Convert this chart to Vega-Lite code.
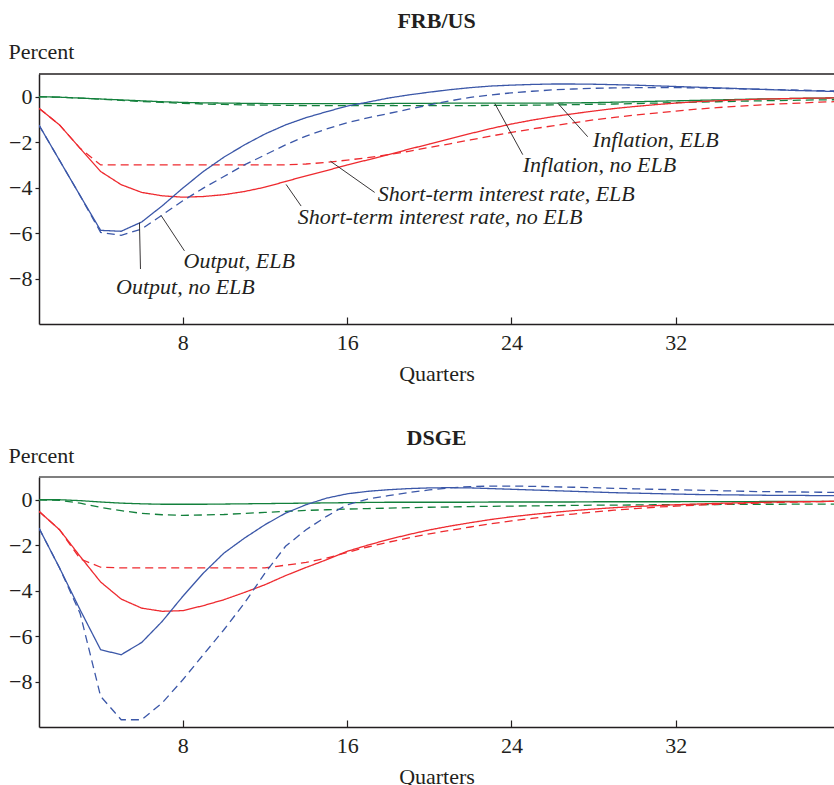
{
"$schema": "https://vega.github.io/schema/vega-lite/v6.json",
"background": "white",
"padding": {"left": 8, "top": 10, "right": 0, "bottom": 0},
"config": {
  "view": {"stroke": null},
  "font": "Liberation Serif",
  "axis": {"labelFont": "Liberation Serif", "labelFontSize": 22, "labelColor": "#231f20", "titleFont": "Liberation Serif", "titleFontSize": 22, "titleFontWeight": "normal", "titleColor": "#231f20", "domainColor": "#231f20", "domainWidth": 1.5, "tickColor": "#231f20", "tickWidth": 1.2, "grid": false},
  "title": {"font": "Liberation Serif", "fontSize": 22, "fontWeight": "bold", "color": "#231f20"},
  "concat": {"spacing": 43}
},
"datasets": {
"d": [
{"m":"FRB/US","q":1,"oE":-1.25,"oN":-1.25,"rE":-0.51,"rN":-0.51,"iE":0,"iN":0},
{"m":"FRB/US","q":2,"oE":-2.8,"oN":-2.8,"rE":-1.24,"rN":-1.24,"iE":-0.02,"iN":-0.02},
{"m":"FRB/US","q":3,"oE":-4.35,"oN":-4.35,"rE":-2.27,"rN":-2.27,"iE":-0.06,"iN":-0.06},
{"m":"FRB/US","q":4,"oE":-5.88,"oN":-5.97,"rE":-3.29,"rN":-3.0,"iE":-0.1,"iN":-0.11},
{"m":"FRB/US","q":5,"oE":-5.92,"oN":-6.1,"rE":-3.87,"rN":-3.0,"iE":-0.14,"iN":-0.16},
{"m":"FRB/US","q":6,"oE":-5.51,"oN":-5.82,"rE":-4.21,"rN":-3.0,"iE":-0.18,"iN":-0.21},
{"m":"FRB/US","q":7,"oE":-4.8,"oN":-5.2,"rE":-4.36,"rN":-3.0,"iE":-0.22,"iN":-0.25},
{"m":"FRB/US","q":8,"oE":-4.02,"oN":-4.58,"rE":-4.42,"rN":-3.0,"iE":-0.25,"iN":-0.29},
{"m":"FRB/US","q":9,"oE":-3.29,"oN":-4.02,"rE":-4.39,"rN":-3.0,"iE":-0.27,"iN":-0.32},
{"m":"FRB/US","q":10,"oE":-2.66,"oN":-3.51,"rE":-4.31,"rN":-3.0,"iE":-0.28,"iN":-0.34},
{"m":"FRB/US","q":11,"oE":-2.12,"oN":-3.0,"rE":-4.17,"rN":-3.0,"iE":-0.29,"iN":-0.36},
{"m":"FRB/US","q":12,"oE":-1.64,"oN":-2.56,"rE":-3.98,"rN":-3.0,"iE":-0.3,"iN":-0.37},
{"m":"FRB/US","q":13,"oE":-1.24,"oN":-2.12,"rE":-3.73,"rN":-3.0,"iE":-0.3,"iN":-0.38},
{"m":"FRB/US","q":14,"oE":-0.92,"oN":-1.73,"rE":-3.48,"rN":-2.96,"iE":-0.3,"iN":-0.39},
{"m":"FRB/US","q":15,"oE":-0.66,"oN":-1.42,"rE":-3.25,"rN":-2.89,"iE":-0.3,"iN":-0.39},
{"m":"FRB/US","q":16,"oE":-0.41,"oN":-1.14,"rE":-3.0,"rN":-2.79,"iE":-0.3,"iN":-0.39},
{"m":"FRB/US","q":17,"oE":-0.24,"oN":-0.93,"rE":-2.78,"rN":-2.68,"iE":-0.3,"iN":-0.39},
{"m":"FRB/US","q":18,"oE":-0.06,"oN":-0.74,"rE":-2.55,"rN":-2.55,"iE":-0.3,"iN":-0.39},
{"m":"FRB/US","q":19,"oE":0.08,"oN":-0.55,"rE":-2.31,"rN":-2.4,"iE":-0.29,"iN":-0.39},
{"m":"FRB/US","q":20,"oE":0.2,"oN":-0.36,"rE":-2.08,"rN":-2.23,"iE":-0.29,"iN":-0.39},
{"m":"FRB/US","q":21,"oE":0.31,"oN":-0.18,"rE":-1.85,"rN":-2.07,"iE":-0.28,"iN":-0.39},
{"m":"FRB/US","q":22,"oE":0.4,"oN":-0.03,"rE":-1.62,"rN":-1.9,"iE":-0.28,"iN":-0.39},
{"m":"FRB/US","q":23,"oE":0.47,"oN":0.08,"rE":-1.4,"rN":-1.73,"iE":-0.28,"iN":-0.38},
{"m":"FRB/US","q":24,"oE":0.51,"oN":0.17,"rE":-1.2,"rN":-1.57,"iE":-0.28,"iN":-0.38},
{"m":"FRB/US","q":25,"oE":0.54,"oN":0.24,"rE":-1.03,"rN":-1.42,"iE":-0.28,"iN":-0.37},
{"m":"FRB/US","q":26,"oE":0.56,"oN":0.3,"rE":-0.88,"rN":-1.28,"iE":-0.28,"iN":-0.36},
{"m":"FRB/US","q":27,"oE":0.56,"oN":0.34,"rE":-0.75,"rN":-1.15,"iE":-0.27,"iN":-0.35},
{"m":"FRB/US","q":28,"oE":0.55,"oN":0.37,"rE":-0.63,"rN":-1.02,"iE":-0.26,"iN":-0.33},
{"m":"FRB/US","q":29,"oE":0.53,"oN":0.39,"rE":-0.52,"rN":-0.91,"iE":-0.24,"iN":-0.32},
{"m":"FRB/US","q":30,"oE":0.51,"oN":0.4,"rE":-0.43,"rN":-0.81,"iE":-0.22,"iN":-0.3},
{"m":"FRB/US","q":31,"oE":0.48,"oN":0.4,"rE":-0.35,"rN":-0.72,"iE":-0.2,"iN":-0.28},
{"m":"FRB/US","q":32,"oE":0.45,"oN":0.4,"rE":-0.28,"rN":-0.63,"iE":-0.18,"iN":-0.26},
{"m":"FRB/US","q":33,"oE":0.42,"oN":0.39,"rE":-0.22,"rN":-0.55,"iE":-0.16,"iN":-0.24},
{"m":"FRB/US","q":34,"oE":0.39,"oN":0.37,"rE":-0.18,"rN":-0.48,"iE":-0.14,"iN":-0.22},
{"m":"FRB/US","q":35,"oE":0.36,"oN":0.35,"rE":-0.14,"rN":-0.42,"iE":-0.12,"iN":-0.2},
{"m":"FRB/US","q":36,"oE":0.33,"oN":0.33,"rE":-0.11,"rN":-0.37,"iE":-0.1,"iN":-0.18},
{"m":"FRB/US","q":37,"oE":0.3,"oN":0.31,"rE":-0.09,"rN":-0.32,"iE":-0.09,"iN":-0.17},
{"m":"FRB/US","q":38,"oE":0.27,"oN":0.29,"rE":-0.07,"rN":-0.28,"iE":-0.07,"iN":-0.15},
{"m":"FRB/US","q":39,"oE":0.25,"oN":0.27,"rE":-0.06,"rN":-0.24,"iE":-0.06,"iN":-0.14},
{"m":"FRB/US","q":40,"oE":0.22,"oN":0.25,"rE":-0.05,"rN":-0.21,"iE":-0.05,"iN":-0.13},
{"m":"DSGE","q":1,"oE":-1.25,"oN":-1.25,"rE":-0.51,"rN":-0.51,"iE":0,"iN":0},
{"m":"DSGE","q":2,"oE":-3.0,"oN":-3.0,"rE":-1.32,"rN":-1.32,"iE":0,"iN":-0.03},
{"m":"DSGE","q":3,"oE":-4.84,"oN":-5.0,"rE":-2.49,"rN":-2.6,"iE":-0.04,"iN":-0.15},
{"m":"DSGE","q":4,"oE":-6.6,"oN":-8.65,"rE":-3.62,"rN":-2.97,"iE":-0.1,"iN":-0.34},
{"m":"DSGE","q":5,"oE":-6.82,"oN":-9.68,"rE":-4.37,"rN":-3.0,"iE":-0.15,"iN":-0.48},
{"m":"DSGE","q":6,"oE":-6.28,"oN":-9.68,"rE":-4.77,"rN":-3.0,"iE":-0.18,"iN":-0.6},
{"m":"DSGE","q":7,"oE":-5.35,"oN":-8.94,"rE":-4.91,"rN":-3.0,"iE":-0.2,"iN":-0.66},
{"m":"DSGE","q":8,"oE":-4.25,"oN":-7.92,"rE":-4.88,"rN":-3.0,"iE":-0.2,"iN":-0.69},
{"m":"DSGE","q":9,"oE":-3.23,"oN":-6.82,"rE":-4.66,"rN":-3.0,"iE":-0.2,"iN":-0.67},
{"m":"DSGE","q":10,"oE":-2.35,"oN":-5.72,"rE":-4.4,"rN":-3.0,"iE":-0.19,"iN":-0.65},
{"m":"DSGE","q":11,"oE":-1.69,"oN":-4.55,"rE":-4.08,"rN":-3.0,"iE":-0.18,"iN":-0.6},
{"m":"DSGE","q":12,"oE":-1.1,"oN":-3.23,"rE":-3.74,"rN":-3.0,"iE":-0.17,"iN":-0.56},
{"m":"DSGE","q":13,"oE":-0.59,"oN":-2.05,"rE":-3.34,"rN":-2.88,"iE":-0.16,"iN":-0.51},
{"m":"DSGE","q":14,"oE":-0.22,"oN":-1.32,"rE":-2.98,"rN":-2.76,"iE":-0.15,"iN":-0.47},
{"m":"DSGE","q":15,"oE":0.07,"oN":-0.73,"rE":-2.64,"rN":-2.57,"iE":-0.14,"iN":-0.44},
{"m":"DSGE","q":16,"oE":0.26,"oN":-0.22,"rE":-2.27,"rN":-2.32,"iE":-0.13,"iN":-0.41},
{"m":"DSGE","q":17,"oE":0.37,"oN":0.03,"rE":-2.0,"rN":-2.08,"iE":-0.12,"iN":-0.39},
{"m":"DSGE","q":18,"oE":0.44,"oN":0.18,"rE":-1.75,"rN":-1.87,"iE":-0.11,"iN":-0.37},
{"m":"DSGE","q":19,"oE":0.49,"oN":0.32,"rE":-1.53,"rN":-1.68,"iE":-0.11,"iN":-0.35},
{"m":"DSGE","q":20,"oE":0.52,"oN":0.43,"rE":-1.33,"rN":-1.5,"iE":-0.11,"iN":-0.33},
{"m":"DSGE","q":21,"oE":0.53,"oN":0.52,"rE":-1.16,"rN":-1.35,"iE":-0.11,"iN":-0.32},
{"m":"DSGE","q":22,"oE":0.52,"oN":0.58,"rE":-1.01,"rN":-1.2,"iE":-0.11,"iN":-0.3},
{"m":"DSGE","q":23,"oE":0.49,"oN":0.6,"rE":-0.87,"rN":-1.06,"iE":-0.1,"iN":-0.29},
{"m":"DSGE","q":24,"oE":0.46,"oN":0.6,"rE":-0.75,"rN":-0.93,"iE":-0.1,"iN":-0.28},
{"m":"DSGE","q":25,"oE":0.43,"oN":0.59,"rE":-0.65,"rN":-0.82,"iE":-0.1,"iN":-0.27},
{"m":"DSGE","q":26,"oE":0.4,"oN":0.57,"rE":-0.56,"rN":-0.72,"iE":-0.1,"iN":-0.26},
{"m":"DSGE","q":27,"oE":0.37,"oN":0.55,"rE":-0.48,"rN":-0.63,"iE":-0.1,"iN":-0.25},
{"m":"DSGE","q":28,"oE":0.34,"oN":0.53,"rE":-0.41,"rN":-0.54,"iE":-0.09,"iN":-0.24},
{"m":"DSGE","q":29,"oE":0.31,"oN":0.5,"rE":-0.35,"rN":-0.46,"iE":-0.09,"iN":-0.24},
{"m":"DSGE","q":30,"oE":0.29,"oN":0.48,"rE":-0.3,"rN":-0.39,"iE":-0.09,"iN":-0.23},
{"m":"DSGE","q":31,"oE":0.27,"oN":0.46,"rE":-0.26,"rN":-0.33,"iE":-0.09,"iN":-0.22},
{"m":"DSGE","q":32,"oE":0.25,"oN":0.44,"rE":-0.22,"rN":-0.28,"iE":-0.09,"iN":-0.22},
{"m":"DSGE","q":33,"oE":0.23,"oN":0.42,"rE":-0.19,"rN":-0.24,"iE":-0.08,"iN":-0.21},
{"m":"DSGE","q":34,"oE":0.22,"oN":0.4,"rE":-0.16,"rN":-0.2,"iE":-0.08,"iN":-0.21},
{"m":"DSGE","q":35,"oE":0.21,"oN":0.38,"rE":-0.14,"rN":-0.17,"iE":-0.08,"iN":-0.2},
{"m":"DSGE","q":36,"oE":0.2,"oN":0.36,"rE":-0.12,"rN":-0.15,"iE":-0.08,"iN":-0.2},
{"m":"DSGE","q":37,"oE":0.19,"oN":0.35,"rE":-0.1,"rN":-0.12,"iE":-0.07,"iN":-0.2},
{"m":"DSGE","q":38,"oE":0.19,"oN":0.34,"rE":-0.09,"rN":-0.1,"iE":-0.07,"iN":-0.19},
{"m":"DSGE","q":39,"oE":0.18,"oN":0.33,"rE":-0.08,"rN":-0.08,"iE":-0.07,"iN":-0.19},
{"m":"DSGE","q":40,"oE":0.18,"oN":0.32,"rE":-0.07,"rN":-0.07,"iE":-0.07,"iN":-0.19}
],
"ann": [
{"label":"Inflation, ELB","x":27.96,"y":-2.2},
{"label":"Inflation, no ELB","x":24.55,"y":-3.3},
{"label":"Short-term interest rate, ELB","x":17.49,"y":-4.6},
{"label":"Short-term interest rate, no ELB","x":13.6,"y":-5.6},
{"label":"Output, ELB","x":8.04,"y":-7.53},
{"label":"Output, no ELB","x":4.75,"y":-8.7}
],
"lead": [
{"x":26.25,"y":-0.28,"x2":27.71,"y2":-1.76},
{"x":23.19,"y":-0.3,"x2":24.55,"y2":-2.55},
{"x":15.19,"y":-2.84,"x2":17.34,"y2":-4.21},
{"x":13.03,"y":-3.86,"x2":13.76,"y2":-4.81},
{"x":6.94,"y":-5.22,"x2":8.08,"y2":-6.78},
{"x":5.89,"y":-5.54,"x2":5.94,"y2":-7.58}
]
},
"vconcat": [
{
 "title": {"text": "FRB/US", "baseline": "alphabetic", "offset": -10},
 "width": 795, "height": 250,
 "layer": [
  {"data": {"name": "d"},
   "transform": [{"filter": "datum.m === 'FRB/US'"}, {"fold": ["iE","iN","rE","rN","oE","oN"], "as": ["s","y"]}],
   "mark": {"type": "line", "strokeWidth": 1.3, "clip": true},
   "encoding": {
    "x": {"field": "q", "type": "quantitative", "scale": {"domain": [1, 39.7], "nice": false, "zero": false},
          "axis": {"values": [8,16,24,32], "title": "Quarters", "tickSize": -7, "labelPadding": 15, "titlePadding": 10, "labelFlush": false}},
    "y": {"field": "y", "type": "quantitative", "scale": {"domain": [-10, 1], "nice": false, "zero": false},
          "axis": {"values": [0,-2,-4,-6,-8], "title": "Percent", "titleAngle": 0, "titleAlign": "left", "titleBaseline": "alphabetic", "titleX": -31, "titleY": -16, "tickSize": 4, "labelPadding": 3}},
    "color": {"field": "s", "type": "nominal", "scale": {"domain": ["iE","iN","rE","rN","oE","oN"], "range": ["#13803c","#13803c","#ee2a2f","#ee2a2f","#3b57a8","#3b57a8"]}, "legend": null},
    "strokeDash": {"field": "s", "type": "nominal", "scale": {"domain": ["iE","iN","rE","rN","oE","oN"], "range": [[1,0],[8,5],[1,0],[8,5],[1,0],[8,5]]}, "legend": null}
   }},
  {"data": {"values": [{}]}, "mark": {"type": "rule", "color": "#231f20", "strokeWidth": 1.5}, "encoding": {"y": {"datum": 1}}},
  {"data": {"name": "lead"}, "mark": {"type": "rule", "color": "#231f20", "strokeWidth": 0.9},
   "encoding": {"x": {"field": "x", "type": "quantitative"}, "y": {"field": "y", "type": "quantitative"}, "x2": {"field": "x2"}, "y2": {"field": "y2"}}},
  {"data": {"name": "ann"}, "mark": {"type": "text", "align": "left", "baseline": "alphabetic", "font": "Liberation Serif", "fontStyle": "italic", "fontSize": 22, "color": "#231f20"},
   "encoding": {"x": {"field": "x", "type": "quantitative"}, "y": {"field": "y", "type": "quantitative"}, "text": {"field": "label"}}}
 ]
},
{
 "title": {"text": "DSGE", "baseline": "alphabetic", "offset": -23},
 "width": 795, "height": 250,
 "layer": [
  {"data": {"name": "d"},
   "transform": [{"filter": "datum.m === 'DSGE'"}, {"fold": ["iE","iN","rE","rN","oE","oN"], "as": ["s","y"]}],
   "mark": {"type": "line", "strokeWidth": 1.3, "clip": true},
   "encoding": {
    "x": {"field": "q", "type": "quantitative", "scale": {"domain": [1, 39.7], "nice": false, "zero": false},
          "axis": {"values": [8,16,24,32], "title": "Quarters", "tickSize": -7, "labelPadding": 15, "titlePadding": 10, "labelFlush": false}},
    "y": {"field": "y", "type": "quantitative", "scale": {"domain": [-10, 1], "nice": false, "zero": false},
          "axis": {"values": [0,-2,-4,-6,-8], "title": "Percent", "titleAngle": 0, "titleAlign": "left", "titleBaseline": "alphabetic", "titleX": -31, "titleY": -15, "tickSize": 4, "labelPadding": 3}},
    "color": {"field": "s", "type": "nominal", "scale": {"domain": ["iE","iN","rE","rN","oE","oN"], "range": ["#13803c","#13803c","#ee2a2f","#ee2a2f","#3b57a8","#3b57a8"]}, "legend": null},
    "strokeDash": {"field": "s", "type": "nominal", "scale": {"domain": ["iE","iN","rE","rN","oE","oN"], "range": [[1,0],[8,5],[1,0],[8,5],[1,0],[8,5]]}, "legend": null}
   }},
  {"data": {"values": [{}]}, "mark": {"type": "rule", "color": "#555555", "strokeWidth": 1.5}, "encoding": {"y": {"datum": 1}}}
 ]
}
]
}
